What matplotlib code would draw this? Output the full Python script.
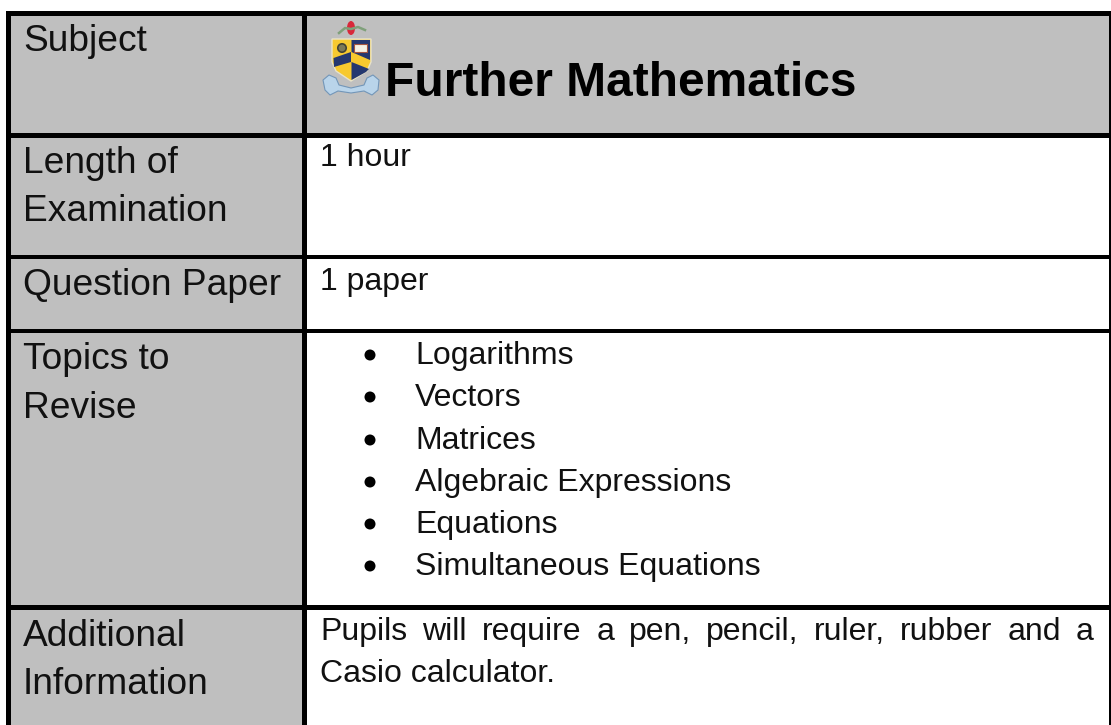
import matplotlib
matplotlib.use("Agg")
import matplotlib.pyplot as plt
from matplotlib.patches import Rectangle, Polygon, Circle, Ellipse

W, H = 1111, 725
row_bands = [(11, 16), (133, 138), (255, 259), (329, 333), (605, 610)]
col_bands = [(6, 11), (302, 307), (1109, 1111)]
left_labels = ["Subject", "Length of", "Examination", "Question Paper", "Topics to", "Revise", "Additional", "Information"]
left_base = [51, 173, 221, 295, 369, 418, 646, 694]
title = "Further Mathematics"
length_text = "1 hour"
paper_text = "1 paper"
topics = ["Logarithms", "Vectors", "Matrices", "Algebraic Expressions", "Equations", "Simultaneous Equations"]
topic_base = [364, 406, 449, 491, 533, 575]
info_line1 = ["Pupils", "will", "require", "a", "pen,", "pencil,", "ruler,", "rubber", "and", "a"]
info_line2 = "Casio calculator."

plt.rcParams['font.family'] = ['Liberation Sans', 'DejaVu Sans']
fig = plt.figure(figsize=(W/100, H/100), dpi=100)
ax = fig.add_axes([0, 0, 1, 1])
ax.set_xlim(0, W)
ax.set_ylim(H, 0)
ax.axis('off')

GREY = '#bfbfbf'
INK = '#111111'
fs_left = 26.7
fs_right = 23.0
ax.add_patch(Rectangle((6, 11), W-6, 127, fc=GREY, ec='none'))
ax.add_patch(Rectangle((6, 11), 301, H-11, fc=GREY, ec='none'))

for y0, y1 in row_bands:
    ax.add_patch(Rectangle((6, y0), W-6, y1-y0, fc='k', ec='none', lw=0))
for x0, x1 in col_bands:
    ax.add_patch(Rectangle((x0, 11), x1-x0, H-11, fc='k', ec='none', lw=0))

for lab, y in zip(left_labels, left_base):
    ax.text(23, y, lab, fontsize=fs_left, va='baseline', ha='left', color=INK)

ax.text(385, 96, title, fontsize=34.5, fontweight='bold', va='baseline', ha='left', color='k')
ax.text(320, 166, length_text, fontsize=fs_right, va='baseline', ha='left', color=INK)
ax.text(320, 290, paper_text, fontsize=fs_right, va='baseline', ha='left', color=INK)

for t, y in zip(topics, topic_base):
    ax.add_patch(Circle((370, y-9), 5.5, fc='k', ec='none'))
    ax.text(415, y, t, fontsize=fs_right, va='baseline', ha='left', color=INK)

# justified first line
r = fig.canvas.get_renderer()
xs0, xs1 = 320, 1094
arts = [ax.text(0, 640, w, fontsize=fs_right, va='baseline', ha='left', color=INK) for w in info_line1]
ws = [a.get_window_extent(r).width for a in arts]
gap = (xs1 - xs0 - sum(ws)) / (len(ws) - 1)
x = xs0
for a, w in zip(arts, ws):
    a.set_x(x)
    x += w + gap
ax.text(320, 682, info_line2, fontsize=fs_right, va='baseline', ha='left', color=INK)

# crest
ax.add_patch(Polygon([(332,39),(371,39),(371,62),(367,71),(351,81),(336,71),(332,62)], fc='#f7c92f', ec='#e9e3c8', lw=1))
ax.add_patch(Polygon([(351.5,40),(370,40),(370,60),(351.5,52)], fc='#25386f', ec='none'))
ax.add_patch(Polygon([(333.5,58),(351,52),(351,62),(334,67)], fc='#25386f', ec='none'))
ax.add_patch(Polygon([(351.5,62),(369,69),(366,72),(351.5,80)], fc='#25386f', ec='none'))
ax.add_patch(Rectangle((354,44),13,7.5, fc='#f6f2e4', ec='#a8563f', lw=0.8))
ax.add_patch(Circle((342,48), 4.2, fc='#7d7a58', ec='#444433', lw=1.2))
ax.add_patch(Polygon([(323,80),(329,75),(336,78),(339,85),(351,88),(364,85),(367,78),(373,75),(379,80),(378,90),(372,95),(364,91),(351,93),(338,91),(330,95),(325,90)], fc='#b9d4ea', ec='#7396b8', lw=0.8))
ax.plot([339,345,351,358,365],[33,28,29,27,30], color='#7fa07a', lw=1.8)
ax.add_patch(Ellipse((351,28), 8, 14, fc='#d8283a', ec='none'))

fig.savefig('out.png', dpi=100)
